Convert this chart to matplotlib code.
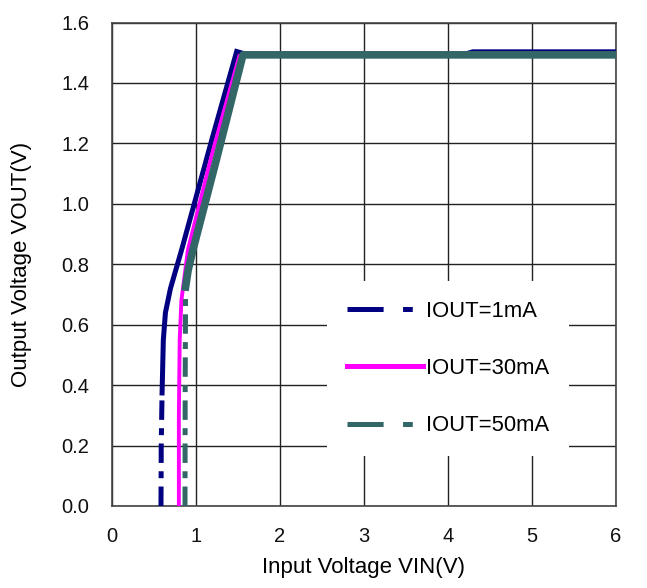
import matplotlib
matplotlib.use("Agg")
import matplotlib.pyplot as plt
from matplotlib.lines import Line2D

plt.rcParams['font.family'] = ['Liberation Sans', 'DejaVu Sans']
plt.rcParams['lines.scale_dashes'] = False

# IOUT=1mA (navy), lower part dash-dot, upper part solid
vin_1ma_low = [0.587, 0.59, 0.60]
vout_1ma_low = [0.0, 0.20, 0.374]
vin_1ma = [0.60, 0.615, 0.64, 0.70, 0.833, 1.20, 1.488, 1.60, 4.2, 4.3, 6.0]
vout_1ma = [0.374, 0.55, 0.64, 0.72, 0.848, 1.22, 1.504, 1.495, 1.495, 1.503, 1.503]

# IOUT=30mA (magenta), solid
vin_30ma = [0.80, 0.80, 0.81, 0.83, 0.908, 1.20, 1.52, 6.0]
vout_30ma = [0.0, 0.30, 0.55, 0.68, 0.848, 1.17, 1.49, 1.49]

# IOUT=50mA (teal), lower part dashed, upper part solid
vin_50ma_low = [0.873, 0.875, 0.88]
vout_50ma_low = [0.0, 0.40, 0.725]
vin_50ma = [0.88, 0.91, 0.968, 1.25, 1.563, 6.0]
vout_50ma = [0.725, 0.78, 0.848, 1.15, 1.493, 1.493]

labels = ['IOUT=1mA', 'IOUT=30mA', 'IOUT=50mA']
navy = '#000080'
magenta = '#FF00FF'
teal = '#336666'
dash_pat = (0, (14, 6, 5, 6))

fig = plt.figure(figsize=(6.47, 5.88), dpi=100)
ax = fig.add_axes([0.1726, 0.1395, 0.779, 0.8222])

ax.plot(vin_1ma_low, vout_1ma_low, color=navy, lw=3.6, linestyle=dash_pat, zorder=3)
ax.plot(vin_1ma, vout_1ma, color=navy, lw=3.6, zorder=3, solid_joinstyle='miter')
ax.plot(vin_30ma, vout_30ma, color=magenta, lw=2.8, zorder=4)
ax.plot(vin_50ma_low, vout_50ma_low, color=teal, lw=3.6, linestyle=dash_pat, zorder=5)
ax.plot(vin_50ma, vout_50ma, color=teal, lw=5.5, zorder=5)

ax.set_xlim(0, 6)
ax.set_ylim(0, 1.6)
ax.set_xticks(range(0, 7))
ax.set_yticks([i * 0.2 for i in range(9)])
ax.set_yticklabels([f"{i * 0.2:.1f}" for i in range(9)])
ax.grid(True, color='#222222', lw=1.0)
ax.set_axisbelow(True)
for s in ax.spines.values():
    s.set_color('#444444')
    s.set_linewidth(1.2)
ax.tick_params(length=0, labelsize=14.5, colors='#111111')
ax.tick_params(axis='x', pad=15)
ax.tick_params(axis='y', pad=16)
ax.set_xlabel('Input Voltage VIN(V)', fontsize=16, labelpad=8)
ax.set_ylabel('Output Voltage VOUT(V)', fontsize=16, labelpad=21)

handles = [
    Line2D([], [], color=navy, lw=3.6, linestyle=(0, (26, 14, 7, 14))),
    Line2D([], [], color=magenta, lw=3.6),
    Line2D([], [], color=teal, lw=3.6, linestyle=(0, (26, 14, 7, 14))),
]
leg = ax.legend(handles, labels, loc='upper left', bbox_to_anchor=(0.427, 0.465),
                frameon=True, facecolor='white', edgecolor='none', framealpha=1,
                fancybox=False, fontsize=15.8, handlelength=3.5, handletextpad=0.12,
                labelspacing=1.65, borderpad=0.9, borderaxespad=0)
leg.set_zorder(6)

fig.savefig('out.png', dpi=100)
